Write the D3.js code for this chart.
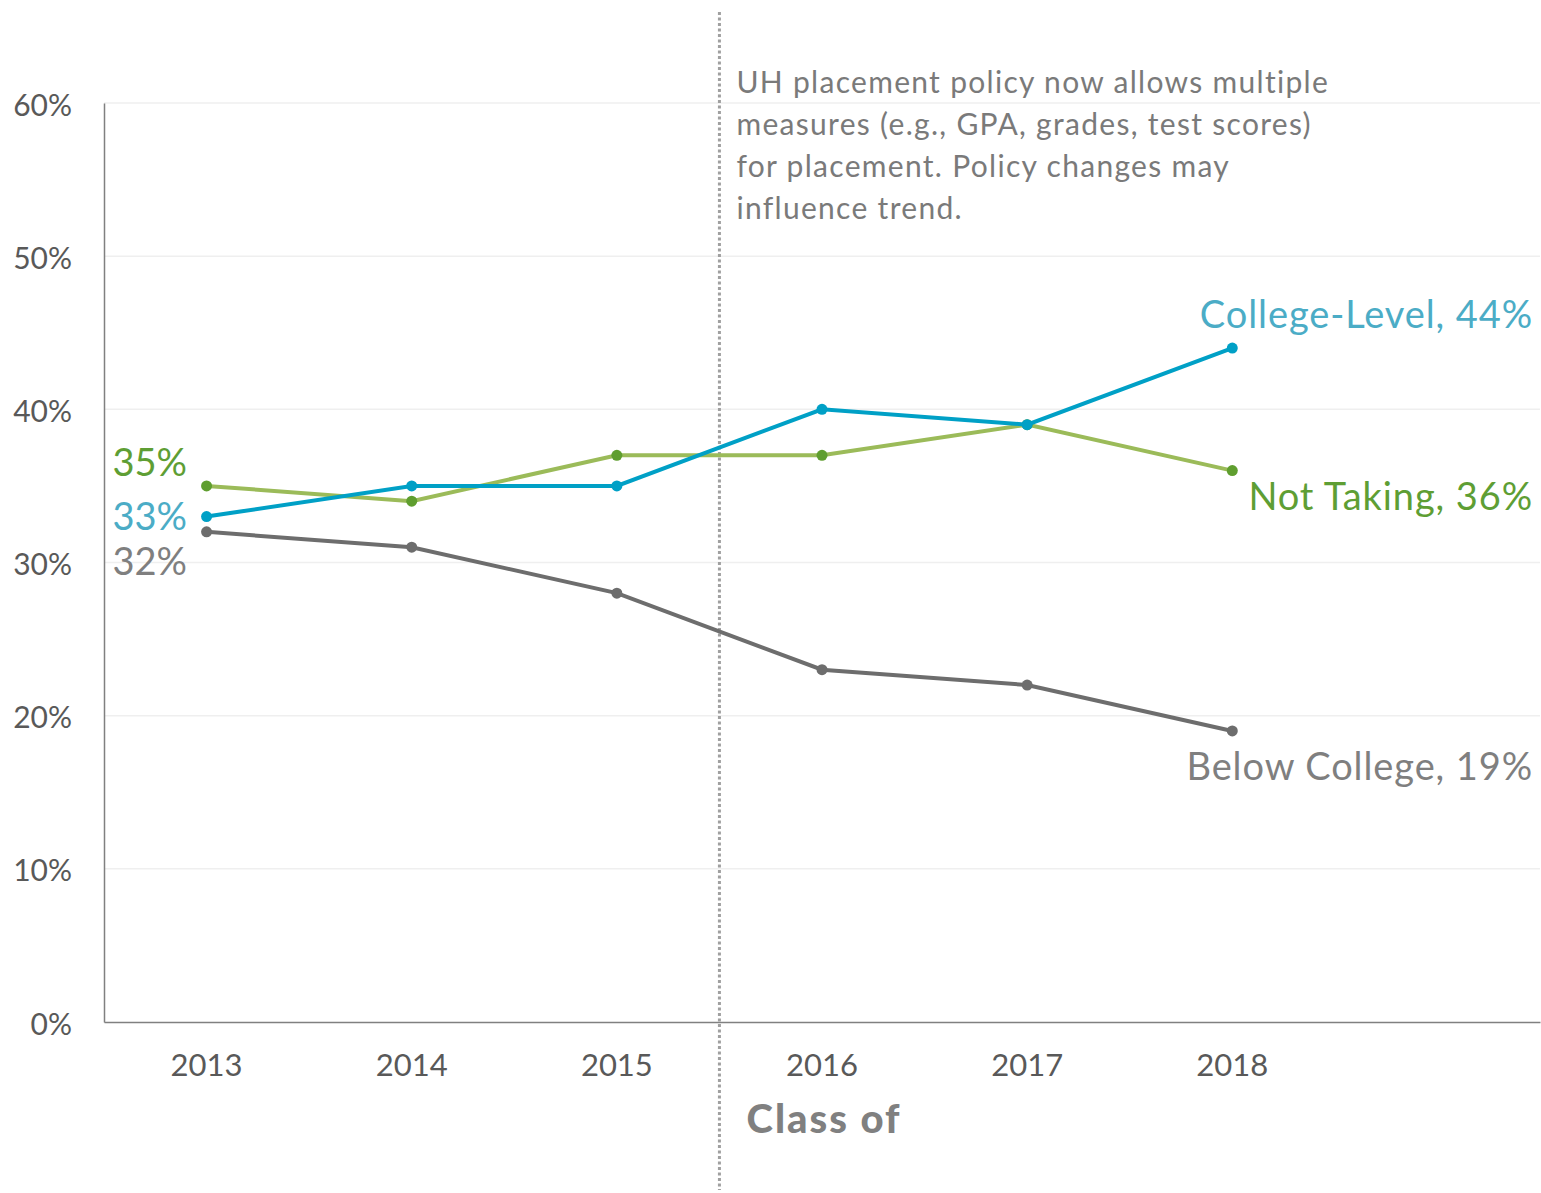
<!DOCTYPE html>
<html><head><meta charset="utf-8">
<script src="https://cdn.jsdelivr.net/npm/d3@7"></script>
<style>body{margin:0;background:#fff}svg{display:block;font-family:Lato,"Open Sans",sans-serif}</style>
</head><body><svg id="c" width="1541" height="1193"></svg>
<script>
const years = ["2013","2014","2015","2016","2017","2018"];
const slots = ["2013","2014","2015","2016","2017","2018",""];
const collegeLevel = [33,35,35,40,39,44];
const notTaking = [35,34,37,37,39,36];
const belowCollege = [32,31,28,23,22,19];
const yTicks = [0,10,20,30,40,50,60];
const noteLines = ["UH placement policy now allows multiple","measures (e.g., GPA, grades, test scores)","for placement. Policy changes may","influence trend."];

const svg = d3.select("#c");
const L=104,R=1540,T=103,B=1022;
const x = d3.scaleBand().domain(slots).range([L,R]);
const xc = d => x(d)+x.bandwidth()/2;
const y = d3.scaleLinear().domain([0,60]).range([B,T]);

svg.append("g").selectAll("line").data(yTicks.filter(d=>d>0)).join("line")
  .attr("x1",L).attr("x2",R).attr("y1",d=>y(d)).attr("y2",d=>y(d))
  .attr("stroke","#efefef").attr("stroke-width",1.5);
const ya = svg.append("g").attr("transform",`translate(${L},0)`)
  .call(d3.axisLeft(y).tickValues(yTicks).tickFormat(d=>d+"%").tickSize(0).tickPadding(32));
ya.select(".domain").attr("stroke","#808080").attr("stroke-width",1.5);
ya.selectAll("text").attr("font-size",30).attr("fill","#595959").attr("font-family","Lato").attr("dy","0.4em");
const xa = svg.append("g").attr("transform",`translate(0,${B})`)
  .call(d3.axisBottom(x).tickValues(years).tickSize(0).tickPadding(32));
xa.select(".domain").attr("stroke","#808080").attr("stroke-width",1.5);
xa.selectAll("text").attr("font-size",31).attr("fill","#595959").attr("font-family","Lato");

svg.append("text").attr("x",824).attr("y",1133).attr("text-anchor","middle")
  .attr("font-size",40).attr("font-weight","900").attr("letter-spacing",2).attr("fill","#808080").text("Class of");

const xDiv = (xc("2015")+xc("2016"))/2;
svg.append("line").attr("x1",xDiv).attr("x2",xDiv).attr("y1",12).attr("y2",1190)
  .attr("stroke","#a0a0a0").attr("stroke-width",3).attr("stroke-dasharray","3,2.5");
svg.append("g").selectAll("text").data(noteLines).join("text")
  .attr("x",xDiv+17).attr("y",(d,i)=>93+i*42).attr("font-size",30).attr("letter-spacing",1.3)
  .attr("fill","#7a7a7a").text(d=>d);

const series = [
  {vals:notTaking, line:"#9bbb59", dot:"#5f9e2f", lab:"#5e9e34", start:"35%", sy:476, end:"Not Taking, 36%", ey:510},
  {vals:collegeLevel, line:"#00a0c6", dot:"#00a0c6", lab:"#4bacc6", start:"33%", sy:530, end:"College-Level, 44%", ey:328},
  {vals:belowCollege, line:"#6d6d6d", dot:"#6d6d6d", lab:"#7f7f7f", start:"32%", sy:575, end:"Below College, 19%", ey:780}
];
const line = d3.line().x((d,i)=>xc(years[i])).y(d=>y(d));
series.forEach(s=>{
  svg.append("path").attr("d",line(s.vals)).attr("fill","none").attr("stroke",s.line).attr("stroke-width",4);
  svg.append("g").selectAll("circle").data(s.vals).join("circle")
    .attr("cx",(d,i)=>xc(years[i])).attr("cy",d=>y(d)).attr("r",5.5).attr("fill",s.dot);
  svg.append("text").attr("x",187).attr("y",s.sy).attr("text-anchor","end")
    .attr("font-size",38).attr("fill",s.lab).text(s.start);
  svg.append("text").attr("x",1533).attr("y",s.ey).attr("text-anchor","end")
    .attr("font-size",38).attr("letter-spacing",0.9).attr("fill",s.lab).text(s.end);
});
</script></body></html>
